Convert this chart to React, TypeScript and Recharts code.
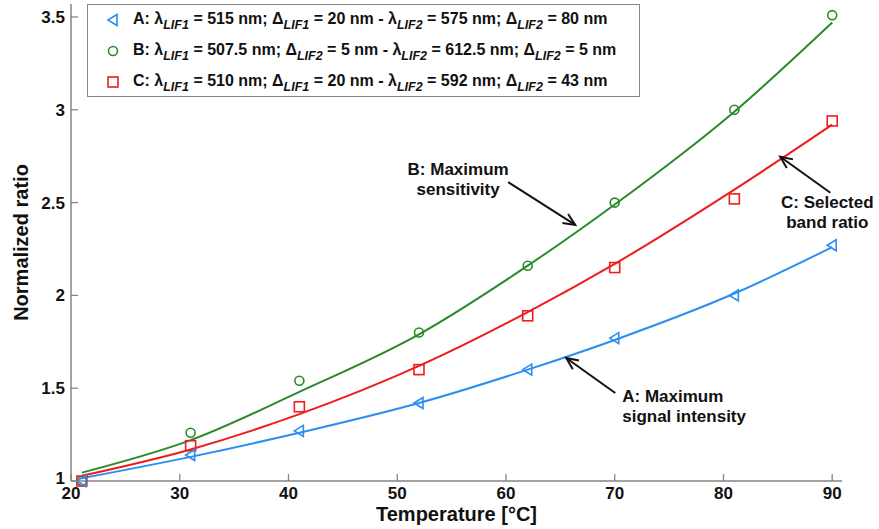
import React from "react";
import {
  ComposedChart,
  Line,
  XAxis,
  YAxis,
  ReferenceLine,
  ReferenceDot,
} from "recharts";

// measured temperatures (°C)
const temps = [21, 31, 41, 52, 62, 70, 81, 90];

// measured normalized ratios
const aMeasured = [1.0, 1.14, 1.27, 1.42, 1.6, 1.77, 2.0, 2.27];
const bMeasured = [1.0, 1.26, 1.54, 1.8, 2.16, 2.5, 3.0, 3.51];
const cMeasured = [1.0, 1.19, 1.4, 1.6, 1.89, 2.15, 2.52, 2.94];

// fitted curves
const aFit = [1.015, 1.13, 1.26, 1.42, 1.6, 1.76, 2.01, 2.26];
const bFit = [1.045, 1.22, 1.48, 1.79, 2.16, 2.49, 2.99, 3.47];
const cFit = [1.028, 1.17, 1.36, 1.62, 1.91, 2.17, 2.57, 2.92];

const xTicks = [20, 30, 40, 50, 60, 70, 80, 90];
const yTicks = [1, 1.5, 2, 2.5, 3, 3.5];

const BLUE = "#2b8ef0";
const GREEN = "#2a8a2a";
const RED = "#f01c1c";
const AXIS = "#858585";
const FONT = "'Liberation Sans', Arial, sans-serif";

const data = temps.map((t, i) => ({
  t,
  aPt: aMeasured[i],
  bPt: bMeasured[i],
  cPt: cMeasured[i],
  aFit: aFit[i],
  bFit: bFit[i],
  cFit: cFit[i],
}));

// arrow annotations: [from, to] in data coords, text anchor + lines
const annotations = [
  {
    from: { x: 60.2, y: 2.61 },
    to: { x: 66.37, y: 2.38 },
    text: { x: 55.6, y: 2.65 },
    anchor: "middle",
    lines: ["B: Maximum", "sensitivity"],
  },
  {
    from: { x: 70.05, y: 1.474 },
    to: { x: 65.54, y: 1.663 },
    text: { x: 70.69, y: 1.426 },
    anchor: "start",
    lines: ["A: Maximum", "signal intensity"],
  },
  {
    from: { x: 89.83, y: 2.553 },
    to: { x: 85.22, y: 2.747 },
    text: { x: 89.55, y: 2.47 },
    anchor: "middle",
    lines: ["C: Selected", "band ratio"],
  },
];

// odd entries are subscripts
const legendA = ["A: λ", "LIF1", " = 515 nm; Δ", "LIF1", " = 20 nm - λ", "LIF2", " = 575 nm; Δ", "LIF2", " = 80 nm"];
const legendB = ["B: λ", "LIF1", " = 507.5 nm; Δ", "LIF2", " = 5 nm - λ", "LIF2", " = 612.5 nm; Δ", "LIF2", " = 5 nm"];
const legendC = ["C: λ", "LIF1", " = 510 nm; Δ", "LIF1", " = 20 nm - λ", "LIF2", " = 592 nm; Δ", "LIF2", " = 43 nm"];

const legendRows = [
  { key: "A", marker: "tri", parts: legendA },
  { key: "B", marker: "circle", parts: legendB },
  { key: "C", marker: "square", parts: legendC },
];

const TriDot = (p: any) => {
  const { cx, cy, index } = p;
  if (cx == null || cy == null) return <g key={index} />;
  return (
    <polygon
      key={index}
      points={`${cx - 5},${cy} ${cx + 4},${cy - 5.5} ${cx + 4},${cy + 5.5}`}
      fill="none"
      stroke={BLUE}
      strokeWidth={1.6}
    />
  );
};

const CircleDot = (p: any) => {
  const { cx, cy, index } = p;
  if (cx == null || cy == null) return <g key={index} />;
  return <circle key={index} cx={cx} cy={cy} r={4.5} fill="none" stroke={GREEN} strokeWidth={1.6} />;
};

const SquareDot = (p: any) => {
  const { cx, cy, index } = p;
  if (cx == null || cy == null) return <g key={index} />;
  return (
    <rect key={index} x={cx - 5} y={cy - 5} width={10} height={10} fill="none" stroke={RED} strokeWidth={1.6} />
  );
};

const XTick = ({ x, y, payload }: any) => (
  <g>
    <line x1={x} x2={x} y1={y} y2={y - 7} stroke={AXIS} strokeWidth={1.3} />
    <text x={x} y={y + 18} textAnchor="middle" fontFamily={FONT} fontWeight="bold" fontSize={17} fill="#111">
      {payload.value}
    </text>
  </g>
);

const YTick = ({ x, y, payload }: any) => (
  <g>
    <line x1={x} x2={x + 7} y1={y} y2={y} stroke={AXIS} strokeWidth={1.3} />
    <text
      x={x - 6}
      y={payload.value === 1 ? y + 3 : y + 6}
      textAnchor="end"
      fontFamily={FONT}
      fontWeight="bold"
      fontSize={17}
      fill="#111"
    >
      {payload.value}
    </text>
  </g>
);

const XTitle = ({ viewBox }: any) => (
  <text
    x={viewBox.x + viewBox.width / 2}
    y={viewBox.y + 40}
    textAnchor="middle"
    fontFamily={FONT}
    fontWeight="bold"
    fontSize={20}
    fill="#111"
  >
    Temperature [°C]
  </text>
);

const YTitle = ({ viewBox }: any) => {
  const cx = 28;
  const cy = viewBox.y + viewBox.height / 2;
  return (
    <text
      x={cx}
      y={cy}
      transform={`rotate(-90 ${cx} ${cy})`}
      textAnchor="middle"
      fontFamily={FONT}
      fontWeight="bold"
      fontSize={20}
      fill="#111"
    >
      Normalized ratio
    </text>
  );
};

const Arrow = (p: any) => {
  const { x1, y1, x2, y2 } = p;
  const ang = Math.atan2(y2 - y1, x2 - x1);
  const len = 13;
  const spread = 0.42;
  const hx1 = x2 - len * Math.cos(ang - spread);
  const hy1 = y2 - len * Math.sin(ang - spread);
  const hx2 = x2 - len * Math.cos(ang + spread);
  const hy2 = y2 - len * Math.sin(ang + spread);
  return (
    <g>
      <line x1={x1} y1={y1} x2={x2} y2={y2} stroke="#111" strokeWidth={2} />
      <polyline points={`${hx1},${hy1} ${x2},${y2} ${hx2},${hy2}`} fill="none" stroke="#111" strokeWidth={2} />
    </g>
  );
};

const makeNote = (lines: string[], anchor: string) => (p: any) => (
  <text x={p.cx} y={p.cy} textAnchor={anchor as any} fontFamily={FONT} fontWeight="bold" fontSize={17} fill="#111">
    {lines.map((l, i) => (
      <tspan key={i} x={p.cx} dy={i === 0 ? 0 : 20}>
        {l}
      </tspan>
    ))}
  </text>
);

const LegendMarker = ({ kind }: { kind: string }) => (
  <svg width={14} height={14} style={{ verticalAlign: "middle" }}>
    {kind === "tri" && <TriDot cx={7} cy={7} />}
    {kind === "circle" && <CircleDot cx={7} cy={7} />}
    {kind === "square" && <SquareDot cx={7} cy={7} />}
  </svg>
);

export default function App() {
  return (
    <div style={{ position: "absolute", left: 0, top: 0, width: 879, height: 529, background: "#fff" }}>
      <ComposedChart width={879} height={529} data={data} margin={{ top: 4, right: 37, bottom: 0, left: 11 }}>
        <XAxis
          dataKey="t"
          type="number"
          domain={[20, 90.9]}
          ticks={xTicks}
          tickSize={0}
          tickMargin={0}
          tickLine={false}
          tick={<XTick />}
          height={48}
          axisLine={{ stroke: AXIS, strokeWidth: 1.5 }}
          label={<XTitle />}
        />
        <YAxis
          type="number"
          domain={[1, 3.57]}
          ticks={yTicks}
          tickSize={0}
          tickMargin={0}
          tickLine={false}
          tick={<YTick />}
          width={60}
          axisLine={{ stroke: AXIS, strokeWidth: 1.5 }}
          label={<YTitle />}
        />
        <Line type="monotone" dataKey="aFit" stroke={BLUE} strokeWidth={2} dot={false} isAnimationActive={false} />
        <Line type="monotone" dataKey="bFit" stroke={GREEN} strokeWidth={2} dot={false} isAnimationActive={false} />
        <Line type="monotone" dataKey="cFit" stroke={RED} strokeWidth={2} dot={false} isAnimationActive={false} />
        <Line dataKey="bPt" stroke="none" dot={<CircleDot />} activeDot={false} isAnimationActive={false} />
        <Line dataKey="cPt" stroke="none" dot={<SquareDot />} activeDot={false} isAnimationActive={false} />
        <Line dataKey="aPt" stroke="none" dot={<TriDot />} activeDot={false} isAnimationActive={false} />
        {annotations.map((a, i) => (
          <ReferenceLine key={`arrow-${i}`} segment={[a.from, a.to]} shape={<Arrow />} />
        ))}
        {annotations.map((a, i) => (
          <ReferenceDot
            key={`note-${i}`}
            x={a.text.x}
            y={a.text.y}
            r={0}
            shape={makeNote(a.lines, a.anchor)}
          />
        ))}
      </ComposedChart>
      <div
        style={{
          position: "absolute",
          left: 87,
          top: 4,
          width: 551,
          height: 91,
          border: `1.5px solid ${AXIS}`,
          background: "#fff",
          fontFamily: FONT,
          fontWeight: "bold",
          fontSize: 16,
          color: "#111",
          boxSizing: "content-box",
        }}
      >
        {legendRows.map((row, r) => (
          <div
            key={row.key}
            style={{ position: "absolute", left: 18, top: 1 + r * 31, height: 30, lineHeight: "26px", whiteSpace: "nowrap" }}
          >
            <LegendMarker kind={row.marker} />
            <span style={{ marginLeft: 13 }}>
              {row.parts.map((s, i) =>
                i % 2 === 1 ? (
                  <span key={i} style={{ fontStyle: "italic", fontSize: 12.5, position: "relative", top: 5 }}>
                    {s}
                  </span>
                ) : (
                  <span key={i}>{s}</span>
                )
              )}
            </span>
          </div>
        ))}
      </div>
    </div>
  );
}
